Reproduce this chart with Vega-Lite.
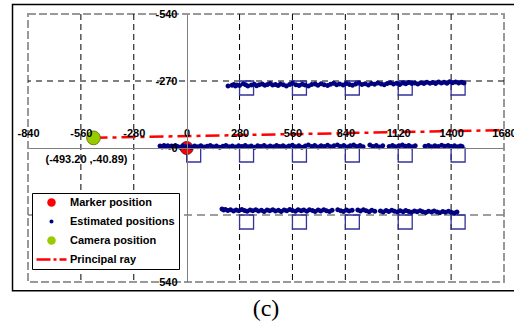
{
  "$schema": "https://vega.github.io/schema/vega-lite/v6.json",
  "width": 476,
  "height": 268,
  "autosize": {"type": "none"},
  "padding": {"left": 28, "top": 14, "right": 10, "bottom": 45},
  "background": "white",
  "config": {
    "view": {"stroke": "#999999", "strokeWidth": 2, "strokeDash": [8, 3]},
    "font": "Liberation Sans"
  },
  "title": {"text": "(c)", "orient": "bottom", "font": "Liberation Serif", "fontSize": 24, "fontWeight": "normal", "color": "black", "offset": 6},
  "datasets": {
    "frame": [{"x": -922, "x2": 2100, "y": -578, "y2": 575}],
    "vgrid": [{"x": -560}, {"x": -280}, {"x": 280}, {"x": 560}, {"x": 840}, {"x": 1120}, {"x": 1400}],
    "hgridTop": [{"y": -270}],
    "hgridBottom": [{"y": 270}],
    "squares": [
      {"x": 280, "y": -270}, {"x": 560, "y": -270}, {"x": 840, "y": -270}, {"x": 1120, "y": -270}, {"x": 1400, "y": -270},
      {"x": 0, "y": 0}, {"x": 280, "y": 0}, {"x": 560, "y": 0}, {"x": 840, "y": 0}, {"x": 1120, "y": 0}, {"x": 1400, "y": 0},
      {"x": 280, "y": 270}, {"x": 560, "y": 270}, {"x": 840, "y": 270}, {"x": 1120, "y": 270}, {"x": 1400, "y": 270}
    ],
    "ray": [{"x": -493.2, "y": -40.89}, {"x": 1680, "y": -72}],
    "marker": [{"series": "Marker position", "x": 0, "y": 0}],
    "camera": [{"series": "Camera position", "x": -493.2, "y": -40.89, "label": "(-493.20 ,-40.89)"}],
    "estimated": [
      {"series": "Estimated positions", "x": 219, "y": -250}, {"series": "Estimated positions", "x": 240, "y": -253}, {"series": "Estimated positions", "x": 250, "y": -256}, {"series": "Estimated positions", "x": 258, "y": -250}, {"series": "Estimated positions", "x": 266, "y": -254}, {"series": "Estimated positions", "x": 280, "y": -252}, {"series": "Estimated positions", "x": 300, "y": -259}, {"series": "Estimated positions", "x": 312, "y": -255}, {"series": "Estimated positions", "x": 324, "y": -250}, {"series": "Estimated positions", "x": 343, "y": -254}, {"series": "Estimated positions", "x": 358, "y": -257}, {"series": "Estimated positions", "x": 370, "y": -251}, {"series": "Estimated positions", "x": 384, "y": -255}, {"series": "Estimated positions", "x": 400, "y": -258}, {"series": "Estimated positions", "x": 414, "y": -253}, {"series": "Estimated positions", "x": 428, "y": -256}, {"series": "Estimated positions", "x": 442, "y": -260}, {"series": "Estimated positions", "x": 455, "y": -254}, {"series": "Estimated positions", "x": 470, "y": -256}, {"series": "Estimated positions", "x": 484, "y": -252}, {"series": "Estimated positions", "x": 497, "y": -258}, {"series": "Estimated positions", "x": 512, "y": -255}, {"series": "Estimated positions", "x": 528, "y": -250}, {"series": "Estimated positions", "x": 545, "y": -256}, {"series": "Estimated positions", "x": 560, "y": -261}, {"series": "Estimated positions", "x": 578, "y": -255}, {"series": "Estimated positions", "x": 595, "y": -252}, {"series": "Estimated positions", "x": 612, "y": -257}, {"series": "Estimated positions", "x": 627, "y": -254}, {"series": "Estimated positions", "x": 645, "y": -250}, {"series": "Estimated positions", "x": 662, "y": -256}, {"series": "Estimated positions", "x": 680, "y": -258}, {"series": "Estimated positions", "x": 695, "y": -253}, {"series": "Estimated positions", "x": 712, "y": -259}, {"series": "Estimated positions", "x": 728, "y": -255}, {"series": "Estimated positions", "x": 746, "y": -252}, {"series": "Estimated positions", "x": 762, "y": -257}, {"series": "Estimated positions", "x": 778, "y": -261}, {"series": "Estimated positions", "x": 794, "y": -255}, {"series": "Estimated positions", "x": 810, "y": -258}, {"series": "Estimated positions", "x": 828, "y": -254}, {"series": "Estimated positions", "x": 845, "y": -260}, {"series": "Estimated positions", "x": 862, "y": -256}, {"series": "Estimated positions", "x": 878, "y": -253}, {"series": "Estimated positions", "x": 895, "y": -258}, {"series": "Estimated positions", "x": 912, "y": -262}, {"series": "Estimated positions", "x": 928, "y": -256}, {"series": "Estimated positions", "x": 945, "y": -259}, {"series": "Estimated positions", "x": 962, "y": -254}, {"series": "Estimated positions", "x": 978, "y": -260}, {"series": "Estimated positions", "x": 995, "y": -257}, {"series": "Estimated positions", "x": 1012, "y": -262}, {"series": "Estimated positions", "x": 1030, "y": -258}, {"series": "Estimated positions", "x": 1046, "y": -255}, {"series": "Estimated positions", "x": 1062, "y": -260}, {"series": "Estimated positions", "x": 1078, "y": -263}, {"series": "Estimated positions", "x": 1095, "y": -258}, {"series": "Estimated positions", "x": 1112, "y": -261}, {"series": "Estimated positions", "x": 1128, "y": -256}, {"series": "Estimated positions", "x": 1145, "y": -262}, {"series": "Estimated positions", "x": 1160, "y": -259}, {"series": "Estimated positions", "x": 1176, "y": -264}, {"series": "Estimated positions", "x": 1192, "y": -260}, {"series": "Estimated positions", "x": 1208, "y": -262}, {"series": "Estimated positions", "x": 1224, "y": -258}, {"series": "Estimated positions", "x": 1240, "y": -263}, {"series": "Estimated positions", "x": 1256, "y": -260}, {"series": "Estimated positions", "x": 1272, "y": -265}, {"series": "Estimated positions", "x": 1288, "y": -261}, {"series": "Estimated positions", "x": 1302, "y": -264}, {"series": "Estimated positions", "x": 1318, "y": -260}, {"series": "Estimated positions", "x": 1334, "y": -266}, {"series": "Estimated positions", "x": 1348, "y": -262}, {"series": "Estimated positions", "x": 1362, "y": -265}, {"series": "Estimated positions", "x": 1378, "y": -261}, {"series": "Estimated positions", "x": 1392, "y": -267}, {"series": "Estimated positions", "x": 1408, "y": -263}, {"series": "Estimated positions", "x": 1424, "y": -266}, {"series": "Estimated positions", "x": 1440, "y": -262}, {"series": "Estimated positions", "x": 1456, "y": -265}, {"series": "Estimated positions", "x": 1468, "y": -262},
      {"series": "Estimated positions", "x": -141, "y": -8}, {"series": "Estimated positions", "x": -130, "y": -4}, {"series": "Estimated positions", "x": -120, "y": -10}, {"series": "Estimated positions", "x": -110, "y": -5}, {"series": "Estimated positions", "x": -100, "y": -9}, {"series": "Estimated positions", "x": -90, "y": -3}, {"series": "Estimated positions", "x": -80, "y": -8}, {"series": "Estimated positions", "x": -70, "y": -4}, {"series": "Estimated positions", "x": -60, "y": -10}, {"series": "Estimated positions", "x": -48, "y": -6}, {"series": "Estimated positions", "x": -35, "y": -3}, {"series": "Estimated positions", "x": -20, "y": -9}, {"series": "Estimated positions", "x": -8, "y": -5}, {"series": "Estimated positions", "x": 10, "y": -7}, {"series": "Estimated positions", "x": 25, "y": -3}, {"series": "Estimated positions", "x": 42, "y": -8}, {"series": "Estimated positions", "x": 58, "y": -5}, {"series": "Estimated positions", "x": 75, "y": -9}, {"series": "Estimated positions", "x": 92, "y": -4}, {"series": "Estimated positions", "x": 108, "y": -7}, {"series": "Estimated positions", "x": 125, "y": -10}, {"series": "Estimated positions", "x": 140, "y": -5}, {"series": "Estimated positions", "x": 158, "y": -8}, {"series": "Estimated positions", "x": 175, "y": -3}, {"series": "Estimated positions", "x": 192, "y": -7}, {"series": "Estimated positions", "x": 208, "y": -10}, {"series": "Estimated positions", "x": 225, "y": -5}, {"series": "Estimated positions", "x": 242, "y": -8}, {"series": "Estimated positions", "x": 258, "y": -4}, {"series": "Estimated positions", "x": 275, "y": -9}, {"series": "Estimated positions", "x": 292, "y": -6}, {"series": "Estimated positions", "x": 310, "y": -10}, {"series": "Estimated positions", "x": 326, "y": -5}, {"series": "Estimated positions", "x": 342, "y": -8}, {"series": "Estimated positions", "x": 360, "y": -3}, {"series": "Estimated positions", "x": 376, "y": -9}, {"series": "Estimated positions", "x": 392, "y": -6}, {"series": "Estimated positions", "x": 410, "y": -10}, {"series": "Estimated positions", "x": 426, "y": -4}, {"series": "Estimated positions", "x": 442, "y": -8}, {"series": "Estimated positions", "x": 460, "y": -5}, {"series": "Estimated positions", "x": 476, "y": -10}, {"series": "Estimated positions", "x": 492, "y": -6}, {"series": "Estimated positions", "x": 510, "y": -9}, {"series": "Estimated positions", "x": 526, "y": -4}, {"series": "Estimated positions", "x": 542, "y": -8}, {"series": "Estimated positions", "x": 560, "y": -11}, {"series": "Estimated positions", "x": 576, "y": -5}, {"series": "Estimated positions", "x": 594, "y": -9}, {"series": "Estimated positions", "x": 610, "y": -3}, {"series": "Estimated positions", "x": 628, "y": -8}, {"series": "Estimated positions", "x": 644, "y": -12}, {"series": "Estimated positions", "x": 662, "y": -6}, {"series": "Estimated positions", "x": 678, "y": -10}, {"series": "Estimated positions", "x": 696, "y": -4}, {"series": "Estimated positions", "x": 712, "y": -9}, {"series": "Estimated positions", "x": 730, "y": -6}, {"series": "Estimated positions", "x": 746, "y": -11}, {"series": "Estimated positions", "x": 762, "y": -5}, {"series": "Estimated positions", "x": 780, "y": -9}, {"series": "Estimated positions", "x": 798, "y": -12}, {"series": "Estimated positions", "x": 814, "y": -6}, {"series": "Estimated positions", "x": 832, "y": -10}, {"series": "Estimated positions", "x": 850, "y": -4}, {"series": "Estimated positions", "x": 866, "y": -9}, {"series": "Estimated positions", "x": 884, "y": -12}, {"series": "Estimated positions", "x": 900, "y": -6}, {"series": "Estimated positions", "x": 918, "y": -10}, {"series": "Estimated positions", "x": 934, "y": -5}, {"series": "Estimated positions", "x": 970, "y": -12}, {"series": "Estimated positions", "x": 986, "y": -6}, {"series": "Estimated positions", "x": 1004, "y": -10}, {"series": "Estimated positions", "x": 1020, "y": -4}, {"series": "Estimated positions", "x": 1038, "y": -9}, {"series": "Estimated positions", "x": 1072, "y": -6}, {"series": "Estimated positions", "x": 1090, "y": -10}, {"series": "Estimated positions", "x": 1106, "y": -5}, {"series": "Estimated positions", "x": 1124, "y": -9}, {"series": "Estimated positions", "x": 1142, "y": -12}, {"series": "Estimated positions", "x": 1158, "y": -7}, {"series": "Estimated positions", "x": 1176, "y": -10}, {"series": "Estimated positions", "x": 1192, "y": -5}, {"series": "Estimated positions", "x": 1210, "y": -9}, {"series": "Estimated positions", "x": 1262, "y": -7}, {"series": "Estimated positions", "x": 1280, "y": -10}, {"series": "Estimated positions", "x": 1296, "y": -5}, {"series": "Estimated positions", "x": 1314, "y": -9}, {"series": "Estimated positions", "x": 1332, "y": -6}, {"series": "Estimated positions", "x": 1350, "y": -11}, {"series": "Estimated positions", "x": 1366, "y": -7}, {"series": "Estimated positions", "x": 1384, "y": -10}, {"series": "Estimated positions", "x": 1400, "y": -6}, {"series": "Estimated positions", "x": 1418, "y": -9}, {"series": "Estimated positions", "x": 1436, "y": -5}, {"series": "Estimated positions", "x": 1450, "y": -8}, {"series": "Estimated positions", "x": 1458, "y": -6},
      {"series": "Estimated positions", "x": 187, "y": 246}, {"series": "Estimated positions", "x": 196, "y": 250}, {"series": "Estimated positions", "x": 205, "y": 248}, {"series": "Estimated positions", "x": 218, "y": 252}, {"series": "Estimated positions", "x": 232, "y": 249}, {"series": "Estimated positions", "x": 248, "y": 254}, {"series": "Estimated positions", "x": 262, "y": 250}, {"series": "Estimated positions", "x": 276, "y": 253}, {"series": "Estimated positions", "x": 292, "y": 248}, {"series": "Estimated positions", "x": 306, "y": 252}, {"series": "Estimated positions", "x": 320, "y": 255}, {"series": "Estimated positions", "x": 336, "y": 250}, {"series": "Estimated positions", "x": 350, "y": 253}, {"series": "Estimated positions", "x": 366, "y": 249}, {"series": "Estimated positions", "x": 380, "y": 254}, {"series": "Estimated positions", "x": 396, "y": 251}, {"series": "Estimated positions", "x": 410, "y": 256}, {"series": "Estimated positions", "x": 426, "y": 250}, {"series": "Estimated positions", "x": 440, "y": 253}, {"series": "Estimated positions", "x": 456, "y": 249}, {"series": "Estimated positions", "x": 470, "y": 254}, {"series": "Estimated positions", "x": 486, "y": 251}, {"series": "Estimated positions", "x": 500, "y": 256}, {"series": "Estimated positions", "x": 516, "y": 250}, {"series": "Estimated positions", "x": 530, "y": 253}, {"series": "Estimated positions", "x": 546, "y": 248}, {"series": "Estimated positions", "x": 560, "y": 252}, {"series": "Estimated positions", "x": 576, "y": 255}, {"series": "Estimated positions", "x": 590, "y": 249}, {"series": "Estimated positions", "x": 606, "y": 253}, {"series": "Estimated positions", "x": 620, "y": 250}, {"series": "Estimated positions", "x": 636, "y": 255}, {"series": "Estimated positions", "x": 650, "y": 249}, {"series": "Estimated positions", "x": 666, "y": 252}, {"series": "Estimated positions", "x": 680, "y": 256}, {"series": "Estimated positions", "x": 696, "y": 250}, {"series": "Estimated positions", "x": 710, "y": 254}, {"series": "Estimated positions", "x": 726, "y": 249}, {"series": "Estimated positions", "x": 740, "y": 253}, {"series": "Estimated positions", "x": 756, "y": 256}, {"series": "Estimated positions", "x": 770, "y": 251}, {"series": "Estimated positions", "x": 800, "y": 249}, {"series": "Estimated positions", "x": 816, "y": 253}, {"series": "Estimated positions", "x": 830, "y": 256}, {"series": "Estimated positions", "x": 846, "y": 250}, {"series": "Estimated positions", "x": 860, "y": 254}, {"series": "Estimated positions", "x": 876, "y": 251}, {"series": "Estimated positions", "x": 906, "y": 250}, {"series": "Estimated positions", "x": 920, "y": 254}, {"series": "Estimated positions", "x": 936, "y": 249}, {"series": "Estimated positions", "x": 950, "y": 253}, {"series": "Estimated positions", "x": 966, "y": 257}, {"series": "Estimated positions", "x": 980, "y": 251}, {"series": "Estimated positions", "x": 996, "y": 255}, {"series": "Estimated positions", "x": 1026, "y": 254}, {"series": "Estimated positions", "x": 1040, "y": 258}, {"series": "Estimated positions", "x": 1056, "y": 252}, {"series": "Estimated positions", "x": 1070, "y": 256}, {"series": "Estimated positions", "x": 1086, "y": 251}, {"series": "Estimated positions", "x": 1100, "y": 255}, {"series": "Estimated positions", "x": 1116, "y": 258}, {"series": "Estimated positions", "x": 1130, "y": 253}, {"series": "Estimated positions", "x": 1146, "y": 257}, {"series": "Estimated positions", "x": 1160, "y": 252}, {"series": "Estimated positions", "x": 1176, "y": 256}, {"series": "Estimated positions", "x": 1190, "y": 259}, {"series": "Estimated positions", "x": 1206, "y": 254}, {"series": "Estimated positions", "x": 1220, "y": 257}, {"series": "Estimated positions", "x": 1236, "y": 253}, {"series": "Estimated positions", "x": 1250, "y": 257}, {"series": "Estimated positions", "x": 1266, "y": 260}, {"series": "Estimated positions", "x": 1280, "y": 255}, {"series": "Estimated positions", "x": 1296, "y": 258}, {"series": "Estimated positions", "x": 1310, "y": 254}, {"series": "Estimated positions", "x": 1326, "y": 258}, {"series": "Estimated positions", "x": 1340, "y": 261}, {"series": "Estimated positions", "x": 1356, "y": 256}, {"series": "Estimated positions", "x": 1370, "y": 259}, {"series": "Estimated positions", "x": 1386, "y": 255}, {"series": "Estimated positions", "x": 1400, "y": 259}, {"series": "Estimated positions", "x": 1416, "y": 262}, {"series": "Estimated positions", "x": 1431, "y": 258}
    ]
  },
  "layer": [
    {
      "data": {"name": "frame"},
      "mark": {"type": "rect", "filled": false, "stroke": "black", "strokeWidth": 1.5, "clip": false},
      "encoding": {
        "x": {"field": "x", "type": "quantitative",
          "scale": {"domain": [-840, 1680], "nice": false, "zero": false},
          "axis": {"orient": "top", "offset": -134, "values": [-840, -560, -280, 0, 280, 560, 840, 1120, 1400, 1680], "labelExpr": "datum.value < 0 ? '-' + abs(datum.value) : '' + datum.value", "tickSize": 0, "labelPadding": 10, "grid": false, "domainColor": "#808080", "domainWidth": 1, "labelFont": "Liberation Sans", "labelFontWeight": "bold", "labelFontSize": 11, "labelColor": "black", "title": null, "labelFlush": false, "labelOverlap": false, "zindex": 1}},
        "x2": {"field": "x2"},
        "y": {"field": "y", "type": "quantitative",
          "scale": {"domain": [-540, 540], "nice": false, "zero": false, "reverse": true},
          "axis": {"orient": "left", "offset": -159, "values": [-540, -270, 0, 540], "labelExpr": "datum.value < 0 ? '-' + abs(datum.value) : '' + datum.value", "tickSize": 0, "labelPadding": 10, "grid": false, "domainColor": "#808080", "domainWidth": 1, "labelFont": "Liberation Sans", "labelFontWeight": "bold", "labelFontSize": 11, "labelColor": "black", "title": null, "labelFlush": false, "labelOverlap": false, "zindex": 1}},
        "y2": {"field": "y2"}
      }
    },
    {
      "data": {"name": "vgrid"},
      "mark": {"type": "rule", "color": "black", "strokeWidth": 1, "strokeDash": [6, 4]},
      "encoding": {"x": {"field": "x", "type": "quantitative"}}
    },
    {
      "data": {"name": "hgridTop"},
      "mark": {"type": "rule", "color": "black", "strokeWidth": 1, "strokeDash": [6, 5]},
      "encoding": {"y": {"field": "y", "type": "quantitative"}}
    },
    {
      "data": {"name": "hgridBottom"},
      "mark": {"type": "rule", "color": "#808080", "strokeWidth": 1.5, "strokeDash": [8, 5]},
      "encoding": {"y": {"field": "y", "type": "quantitative"}}
    },
    {
      "data": {"name": "squares"},
      "mark": {"type": "point", "shape": "square", "filled": false, "size": 196, "stroke": "#333399", "strokeWidth": 1.3, "opacity": 1, "xOffset": 7, "yOffset": 7},
      "encoding": {"x": {"field": "x", "type": "quantitative"}, "y": {"field": "y", "type": "quantitative"}}
    },
    {
      "data": {"name": "ray"},
      "mark": {"type": "line", "color": "#ff0000", "strokeWidth": 2.5, "strokeDash": [14, 5, 4, 5]},
      "encoding": {"x": {"field": "x", "type": "quantitative"}, "y": {"field": "y", "type": "quantitative"}}
    },
    {
      "data": {"name": "marker"},
      "mark": {"type": "point", "filled": true, "size": 170, "opacity": 1, "stroke": "#660000", "strokeWidth": 0.8},
      "encoding": {
        "x": {"field": "x", "type": "quantitative"},
        "y": {"field": "y", "type": "quantitative"},
        "color": {"field": "series", "type": "nominal",
          "scale": {"domain": ["Marker position", "Estimated positions", "Camera position", "Principal ray"], "range": ["#ff0000", "#000080", "#99cc00", "#ff0000"]},
          "legend": {"orient": "none", "legendX": 4, "legendY": 179, "zindex": 2, "title": null, "padding": 4, "strokeColor": "black", "fillColor": "white", "labelFont": "Liberation Sans", "labelFontWeight": "bold", "labelFontSize": 11, "labelColor": "black", "rowPadding": 7, "symbolOffset": 10, "labelOffset": 13, "symbolSize": 72, "symbolStrokeWidth": 0}
        },
        "shape": {"field": "series", "type": "nominal",
          "scale": {"domain": ["Marker position", "Estimated positions", "Camera position", "Principal ray"], "range": ["circle", "M-0.47,0A0.47,0.47,0,1,0,0.47,0A0.47,0.47,0,1,0,-0.47,0Z", "circle", "M-3.54,-0.3H-0.24V0.3H-3.54Z M0.47,-0.3H1.18V0.3H0.47Z M1.89,-0.3H3.54V0.3H1.89Z"]},
          "legend": {"orient": "none", "legendX": 4, "legendY": 179, "zindex": 2, "title": null, "padding": 4, "strokeColor": "black", "fillColor": "white", "labelFont": "Liberation Sans", "labelFontWeight": "bold", "labelFontSize": 11, "labelColor": "black", "rowPadding": 7, "symbolOffset": 10, "labelOffset": 13, "symbolSize": 72, "symbolStrokeWidth": 0}
        }
      }
    },
    {
      "data": {"name": "estimated"},
      "mark": {"type": "point", "filled": true, "size": 113, "opacity": 1, "strokeWidth": 0},
      "encoding": {
        "x": {"field": "x", "type": "quantitative"},
        "y": {"field": "y", "type": "quantitative"},
        "color": {"field": "series", "type": "nominal"},
        "shape": {"field": "series", "type": "nominal"}
      }
    },
    {
      "data": {"name": "camera"},
      "mark": {"type": "point", "filled": true, "size": 190, "opacity": 1, "stroke": "#556600", "strokeWidth": 0.8},
      "encoding": {
        "x": {"field": "x", "type": "quantitative"},
        "y": {"field": "y", "type": "quantitative"},
        "color": {"field": "series", "type": "nominal"},
        "shape": {"field": "series", "type": "nominal"}
      }
    },
    {
      "data": {"name": "camera"},
      "mark": {"type": "text", "font": "Liberation Sans", "fontWeight": "bold", "fontSize": 11, "color": "black", "dx": -7, "dy": 22},
      "encoding": {
        "x": {"field": "x", "type": "quantitative"},
        "y": {"field": "y", "type": "quantitative"},
        "text": {"field": "label"}
      }
    }
  ]
}
